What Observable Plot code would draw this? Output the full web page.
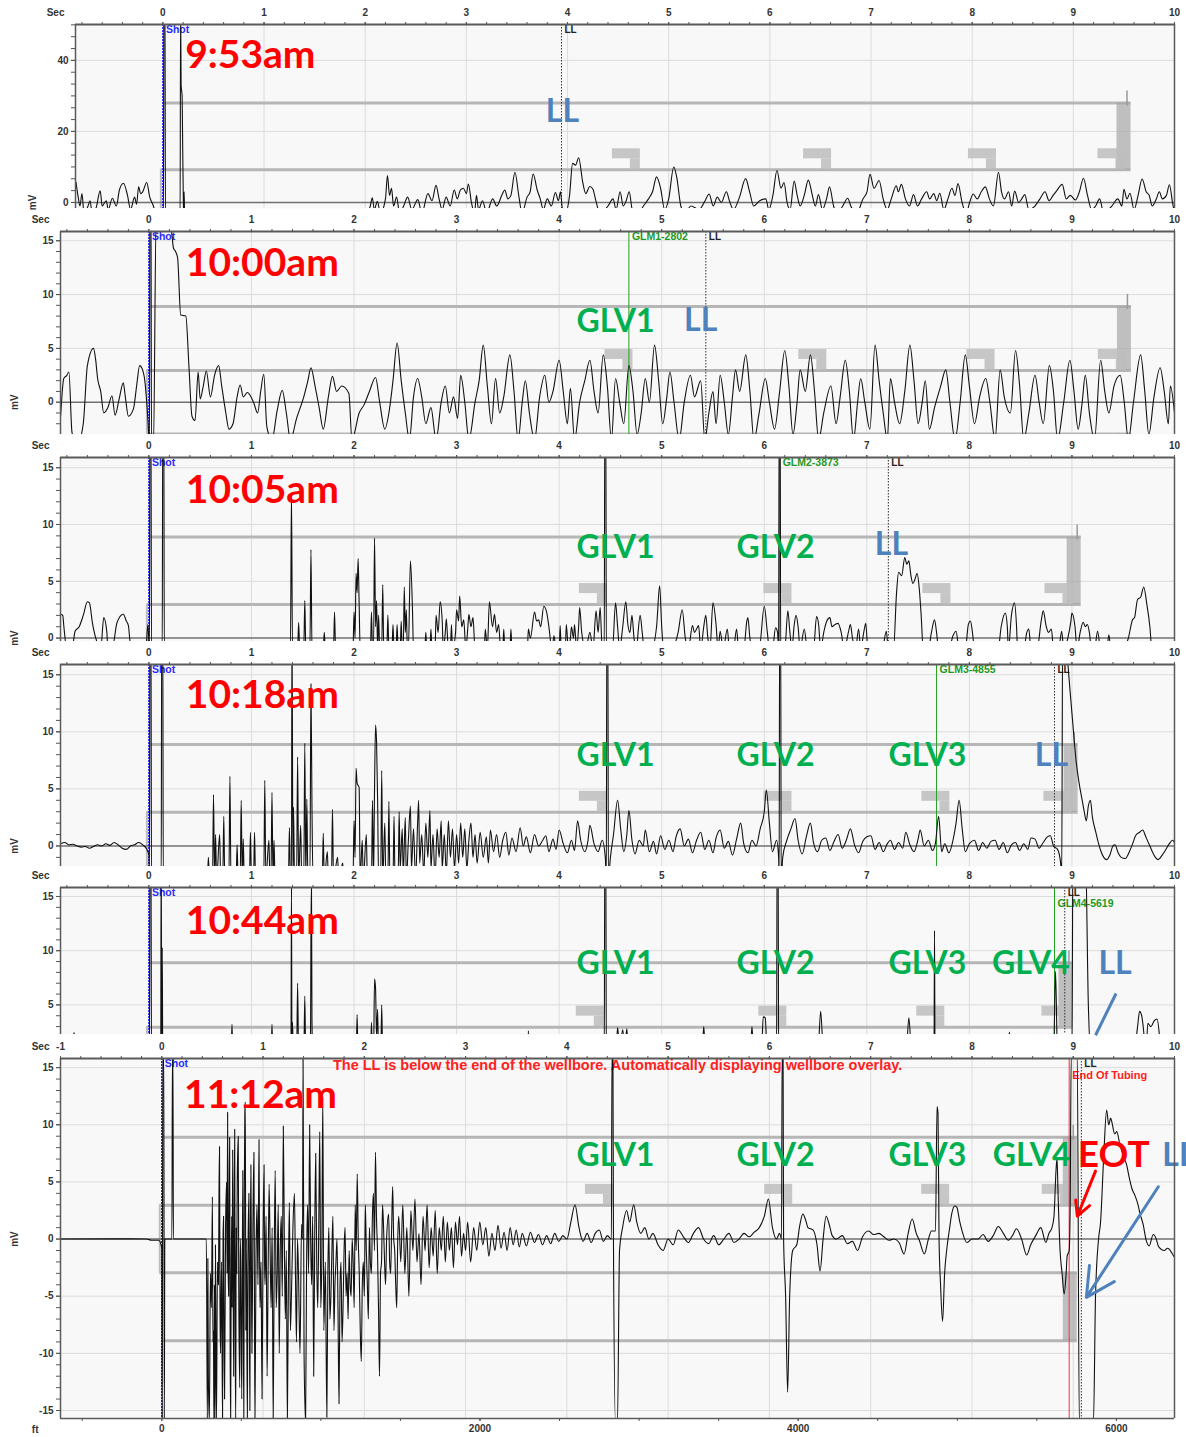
<!DOCTYPE html>
<html>
<head>
<meta charset="utf-8">
<title>Acoustic fluid level shots – 9:53am to 11:12am</title>
<script src="https://cdn.jsdelivr.net/npm/d3@7"></script>
<script src="https://cdn.jsdelivr.net/npm/@observablehq/plot@0.6"></script>
<style>
  html, body { margin: 0; padding: 0; background: #fff; }
  #stack { position: relative; width: 1186px; height: 1437px; overflow: hidden; background: #fff; }
  #stack > svg { position: absolute; left: 0; }
</style>
</head>
<body>
<div id="stack"></div>
<script>
// ---------------------------------------------------------------------------
// Acoustic traces, one per shot: [seconds after shot, millivolts]
// ---------------------------------------------------------------------------
const trace0953 = [
  [-0.86,5.8],[-0.84,2],[-0.82,-1],[-0.80,2.5],[-0.78,-3],[-0.74,-1],[-0.72,0.5],[-0.70,-3],[-0.66,-1.5],[-0.62,3.3],[-0.6,-1],[-0.56,0.5],[-0.54,-2],[-0.5,1.2],[-0.46,-1],[-0.43,3.5],[-0.39,5.4],[-0.35,2],[-0.32,-2],[-0.28,1.5],[-0.26,-0.5],[-0.24,4.4],[-0.22,2.5],[-0.2,3.0],[-0.16,5.6],[-0.13,1.5],[-0.1,-0.5],[-0.07,-3],[-0.03,-4],
  [0.005,-4],[0.01,60],[0.02,60],[0.025,-4],[0.1,-4],[0.17,-4],[0.175,55],[0.18,33],[0.19,30],[0.195,17],[0.2,5],[0.205,-4],[0.21,3],[0.215,-4],
  [1.5,-4],[2.0,-4],[2.05,-1],[2.07,1.3],[2.09,-2],[2.12,0.3],[2.15,-3],[2.2,1],[2.22,7.6],[2.24,2],[2.26,4],[2.28,-1],[2.31,1.5],[2.34,-3],
  [2.38,-1],[2.42,1.5],[2.46,-2],[2.52,0.8],[2.56,-3],[2.62,2.5],[2.66,0.5],[2.70,4.8],[2.73,1],[2.76,-2],[2.8,1.5],[2.84,-1],[2.88,3.5],[2.91,1],[2.94,3.5],[2.97,4],[3.0,2.5],[3.02,5.2],[3.05,0],[3.08,-3],[3.1,2],[3.12,-2],[3.16,0.5],[3.2,-3],[3.26,1],[3.3,-1],[3.35,2],[3.38,3.5],[3.41,1],[3.44,2],[3.48,8.5],[3.52,1.5],[3.55,-3],[3.6,1.5],[3.63,3],[3.66,8],[3.7,3.5],[3.73,1],[3.76,-2],[3.8,1],[3.84,-1],[3.88,2.8],[3.91,0.5],[3.93,3],[3.95,-2],[3.98,-3],
  [4.02,2],[4.05,11],[4.08,10.5],[4.11,12.6],[4.15,5.7],[4.18,2.5],[4.22,4.5],[4.25,3.8],[4.28,0.5],[4.32,-3],[4.4,-1],[4.45,1],[4.48,-2],[4.52,3],[4.55,-1],[4.58,0.5],[4.61,3],[4.64,-2],[4.7,-3],[4.75,-1],[4.8,1],[4.84,3],[4.88,7.2],[4.92,4],[4.96,-2],[5.0,1],[5.05,10],[5.08,7],[5.12,-1],[5.16,-3],[5.22,-1],[5.3,-2],[5.36,0.5],[5.4,2.4],[5.44,-1],[5.48,1.5],[5.52,0],[5.57,3],[5.6,0.5],[5.64,-2],[5.7,1.5],[5.76,6.7],[5.8,3],[5.84,-1],[5.9,0.5],[5.96,1],[5.99,-2],
  [6.03,2],[6.07,9],[6.11,4],[6.14,5.6],[6.17,0],[6.2,-2],[6.24,6],[6.27,2],[6.3,-1],[6.34,2],[6.38,6.3],[6.42,2],[6.45,-1],[6.48,2.2],[6.52,-2],[6.56,1],[6.59,4.4],[6.63,-1],[6.67,-3],[6.72,-1],[6.77,1.2],[6.8,-1],[6.86,-3],[6.92,1],[6.96,3],[6.99,7.9],[7.03,4],[7.08,6.2],[7.12,1],[7.16,-2],[7.2,1],[7.25,4.7],[7.27,3],[7.3,5.1],[7.34,1],[7.38,-1],[7.42,2.2],[7.46,-1],[7.5,1],[7.55,3],[7.58,1],[7.62,2.5],[7.65,0.5],[7.68,2.6],[7.72,-2],[7.76,1],[7.8,4],[7.83,2],[7.86,5.3],[7.9,0],[7.94,-3],[7.98,0.5],
  [8.01,2.4],[8.05,1],[8.09,3],[8.13,4.4],[8.17,1],[8.21,-1],[8.26,8.5],[8.29,3],[8.32,1],[8.36,3],[8.39,-1],[8.42,3.2],[8.46,0],[8.49,1],[8.52,2.2],[8.56,-2],[8.62,-1],[8.67,1],[8.72,3],[8.76,0.5],[8.8,2],[8.84,3.5],[8.89,5.1],[8.93,1],[8.97,2],[9.02,0.7],[9.06,3],[9.1,6.8],[9.14,2],[9.18,-2],[9.22,-1],[9.26,1],[9.3,-3],[9.38,-1],[9.44,1],[9.48,-1],[9.5,3.7],[9.53,1],[9.56,2.6],[9.6,-2],[9.64,2],[9.68,6.6],[9.72,3],[9.75,2],[9.78,-1],[9.82,1],[9.85,3],[9.88,1],[9.92,2],[9.95,5],[9.98,0],[10,-3]
];

const trace1000 = [
  [-0.86,-1.2],[-0.83,2.2],[-0.8,2.5],[-0.78,2.8],[-0.75,-2.8],[-0.7,-4],[-0.64,-2],[-0.6,3.4],[-0.54,5.0],[-0.52,4],[-0.5,2.2],[-0.47,1],[-0.44,-1],[-0.4,-0.5],[-0.36,0.6],[-0.33,-1.2],[-0.29,0.3],[-0.25,1.8],[-0.23,0.5],[-0.2,-1.3],[-0.15,-0.6],[-0.12,1.5],[-0.09,3.4],[-0.07,3.2],[-0.04,2],[-0.01,-1.6],
  [0.005,-4],[0.01,20],[0.02,20],[0.025,-4],[0.045,-4],[0.07,17],[0.1,17],[0.2,16.5],[0.22,15.9],[0.24,14.3],[0.26,14],[0.28,13.4],[0.31,8.1],[0.36,8],[0.39,3.4],[0.42,-1.3],[0.45,-1.7],[0.48,2.8],[0.5,0.3],[0.53,1.5],[0.56,2.9],[0.6,0.5],[0.64,2.5],[0.68,3.4],[0.71,1.5],[0.75,-1],[0.78,-2.5],[0.82,-2],[0.86,0.5],[0.89,1.6],[0.92,0.5],[0.96,0.9],
  [1.02,0],[1.06,-1],[1.09,1],[1.12,2.6],[1.15,-2.3],[1.2,-3.5],[1.25,-0.8],[1.3,1.1],[1.34,-1],[1.38,-3.5],[1.44,-1.5],[1.51,0.5],[1.55,2],[1.58,3.2],[1.62,1.5],[1.66,-0.5],[1.7,-2.5],[1.75,0.5],[1.79,2.4],[1.83,1],[1.88,1.5],[1.95,0.8],[1.98,-3.5],
  [2.05,-1],[2.1,-0.2],[2.15,1],[2.21,2.3],[2.25,0],[2.3,-2.5],[2.34,-1],[2.38,2],[2.42,5.5],[2.46,2],[2.5,-1],[2.54,-3.5],[2.58,0.5],[2.62,2.2],[2.66,0.5],[2.7,-2],[2.75,-0.5],[2.8,-3.5],[2.85,0],[2.89,1.5],[2.93,-1],[2.97,0.5],
  [3.01,-1.5],[3.04,2.5],[3.08,0],[3.12,-3.5],[3.18,0],[3.22,2],[3.26,5.3],[3.3,1.5],[3.34,-2],[3.38,2.2],[3.42,-1],[3.46,0.5],[3.52,4.4],[3.56,1],[3.6,-3.5],[3.64,0],[3.67,2.0],[3.71,-1],[3.76,-3.5],[3.81,0.5],[3.86,2.5],[3.9,0],[3.94,1],
  [4.0,3.9],[4.04,1],[4.08,-2],[4.11,1.3],[4.15,-3.5],[4.2,0],[4.25,2],[4.3,3.9],[4.34,1],[4.38,-1],[4.43,4.4],[4.47,1.5],[4.51,-3.5],[4.55,2.2],[4.59,0],[4.63,-2],[4.68,3.4],[4.72,1],[4.76,-3],[4.8,-1],[4.84,2.2],[4.88,0],[4.93,5.3],[4.97,2],
  [5.01,-2],[5.05,0.5],[5.08,2.8],[5.12,0],[5.17,-3.5],[5.22,0],[5.28,2.5],[5.32,0.5],[5.38,2],[5.42,-3.5],[5.46,-1],[5.5,1],[5.53,-2],[5.57,2.5],[5.61,0],[5.65,-3],[5.69,0.5],[5.72,3],[5.76,1],[5.82,4.4],[5.86,1],[5.9,-3.5],[5.95,-1],
  [6.01,2.2],[6.05,0],[6.1,-2.5],[6.15,1],[6.2,4.8],[6.24,1.5],[6.28,-3],[6.32,0],[6.35,3],[6.4,1],[6.45,4.4],[6.49,1],[6.53,-3.5],[6.58,-1],[6.65,1.5],[6.7,-2],[6.74,0.5],[6.79,3.9],[6.83,1],[6.87,-3.5],[6.91,0],[6.94,2.2],[6.98,0],
  [7.03,-2.5],[7.08,5.3],[7.12,2],[7.16,-1],[7.2,-3.5],[7.23,2.2],[7.27,0],[7.32,-2],[7.37,1],[7.42,5.3],[7.46,2],[7.5,-2],[7.54,0],[7.57,2],[7.61,-2.5],[7.66,-0.5],[7.72,1.5],[7.77,3],[7.81,0],[7.86,-3.5],[7.91,0],[7.96,4.4],
  [8.0,1.5],[8.05,-2],[8.1,0.5],[8.16,2.2],[8.2,0],[8.25,-3.5],[8.3,3],[8.34,0.5],[8.4,-1],[8.45,4.8],[8.49,1.5],[8.53,-3.5],[8.58,-1],[8.64,2.5],[8.68,0],[8.72,-2],[8.78,3.4],[8.82,1],[8.86,-3.5],[8.92,0],[8.98,3.9],
  [9.02,1],[9.06,-2.5],[9.1,0],[9.13,2.5],[9.17,-1],[9.22,-3.5],[9.28,3.9],[9.32,1],[9.36,-1],[9.41,1.5],[9.47,2.5],[9.51,0],[9.55,-3.5],[9.6,0],[9.67,4.4],[9.71,1],[9.75,-3],[9.8,0.5],[9.86,3.2],[9.9,1],[9.94,-2],[9.96,1.5],[10,-1]
];

const trace1005 = [
  [-0.86,2.1],[-0.84,2.0],[-0.83,1.1],[-0.8,-1],[-0.75,-1],[-0.72,0.6],[-0.68,1.0],[-0.64,2],[-0.6,3.2],[-0.58,3.1],[-0.55,1.3],[-0.5,-0.5],[-0.47,-1],[-0.44,1.8],[-0.41,0.5],[-0.4,-1],[-0.36,-1],[-0.31,1.4],[-0.25,2.1],[-0.22,1.5],[-0.2,1.1],[-0.18,-0.5],[-0.1,-1],[-0.03,-1],[-0.01,1.2],
  [0.005,-1],[0.01,20],[0.02,20],[0.025,-1],[0.13,-1],[0.135,20],[0.145,20],[0.15,-1],
  [1.38,-1],[1.39,12.8],[1.4,-1],[1.45,-1],[1.46,1.4],[1.47,-1],[1.51,-1],[1.52,3.3],[1.53,-1],[1.57,-1],[1.58,7.8],[1.59,-1],[1.7,-1],[1.71,0.5],[1.72,-1],[1.8,-1],[1.81,2.3],[1.82,-1],[1.99,-1],
  [2.0,2.3],[2.01,0],[2.02,5.7],[2.03,4],[2.04,7.0],[2.05,3],[2.06,-1],[2.16,-1],[2.17,2.3],[2.18,-1],[2.19,-1],[2.2,8.8],[2.21,1],[2.22,3.3],[2.23,-1],[2.24,2],[2.25,-1],[2.27,-1],[2.28,4.7],[2.29,-1],[2.32,-1],[2.33,2],[2.34,-1],[2.37,-1],[2.38,1.2],[2.39,-1],[2.41,-1],[2.42,1.2],[2.43,-1],[2.45,-1],[2.46,1.5],[2.47,-1],[2.48,-1],[2.49,4.5],[2.5,0.5],[2.51,2.5],[2.52,-1],[2.53,-1],[2.55,6.8],[2.57,2.5],[2.58,-1],
  [2.69,-1],[2.7,0.5],[2.71,-1],[2.74,-1],[2.75,0.8],[2.76,-1],[2.79,-1],[2.8,2],[2.82,0.5],[2.84,3.2],[2.86,1.5],[2.87,-1],[2.89,0.5],[2.9,1.7],[2.92,-1],[2.94,-1],[2.95,1.2],[2.96,-1],[2.99,0.5],
  [3.0,2.5],[3.02,1.5],[3.03,3.7],[3.05,1],[3.07,1.6],[3.09,-1],[3.11,1],[3.12,2.1],[3.14,1],[3.16,1.8],[3.18,-1],[3.27,-1],[3.28,0.8],[3.3,-1],[3.32,3.2],[3.35,1],[3.37,2.1],[3.39,0.5],[3.41,1.2],[3.43,-1],[3.45,-1],[3.46,0.8],[3.47,-1],[3.52,-1],[3.53,0.8],[3.54,-1],[3.69,-1],[3.7,0.8],[3.72,0],[3.76,2.3],[3.78,1.5],[3.8,1.6],[3.82,1],[3.85,2.8],[3.88,2.2],[3.9,1],[3.93,-1],[3.95,0.2],[3.97,-1],
  [4.0,-1],[4.01,1.1],[4.02,-1],[4.06,-1],[4.07,1.2],[4.09,-1],[4.11,0],[4.12,1],[4.14,0],[4.15,1.2],[4.17,-1],[4.19,1],[4.2,2.7],[4.22,0.5],[4.26,-1],[4.3,0.5],[4.33,-1],[4.36,2.4],[4.38,0.5],[4.4,2.7],[4.42,-1],[4.44,-1],[4.445,20],[4.455,20],[4.46,-1],
  [4.52,-1],[4.55,3.1],[4.57,1],[4.59,-1],[4.62,1],[4.65,3.2],[4.67,1.2],[4.69,0.5],[4.71,2.0],[4.73,0],[4.75,-1],[4.79,2.0],[4.81,0.5],[4.83,-1],[4.9,-1],[4.95,1],[4.98,4.6],[5.0,1],[5.02,-1],[5.1,-1],[5.16,0.5],[5.2,2.5],[5.23,0],[5.26,-1],[5.3,1.1],[5.32,0.5],[5.34,0.8],[5.36,1.1],[5.38,-1],[5.41,1],[5.43,2],[5.45,0],[5.47,-1],[5.5,3.1],[5.53,1.2],[5.55,-1],[5.57,0.6],[5.6,-1],[5.64,0.8],[5.66,-1],[5.7,-1],[5.73,0.8],[5.75,-1],[5.8,-1],[5.83,1.5],[5.84,1.8],[5.86,0],[5.88,-1],[5.95,-1],
  [6.0,2.8],[6.03,0.5],[6.05,-1],[6.08,-1],[6.11,0.9],[6.13,0.5],[6.14,-1],[6.145,20],[6.155,20],[6.16,-1],[6.2,-1],[6.23,2.4],[6.25,0.5],[6.27,-1],[6.29,1],[6.31,2],[6.33,1],[6.35,-1],[6.39,0.8],[6.42,-1],[6.48,-1],[6.51,1.9],[6.53,1.2],[6.55,-1],[6.58,0.5],[6.61,1.5],[6.64,1.8],[6.66,1],[6.69,1.2],[6.72,1.3],[6.75,0.5],[6.78,-1],[6.82,0.5],[6.84,1.2],[6.86,0],[6.89,-1],[6.92,0.8],[6.94,-1],[6.97,0.5],[6.99,1.3],
  [7.01,-1],[7.15,-1],[7.19,0.6],[7.21,-1],[7.26,-1],[7.29,4],[7.31,5.8],[7.34,5.5],[7.37,7.1],[7.39,6.5],[7.41,6.8],[7.43,5.5],[7.45,4.8],[7.47,5.2],[7.49,5.7],[7.51,4.5],[7.53,2],[7.55,-1],[7.6,-1],[7.63,0.5],[7.66,1.6],[7.68,0.5],[7.7,-1],[7.8,-1],[7.84,0.2],[7.87,0.6],[7.9,-1],[7.96,-1],[7.99,1.2],
  [8.01,1.5],[8.03,0.5],[8.05,-1],[8.2,-1],[8.28,-1],[8.31,1],[8.35,2.2],[8.37,1],[8.38,-1],[8.41,2],[8.44,3.1],[8.46,1],[8.47,-1],[8.53,-1],[8.56,0.5],[8.58,0.8],[8.6,-1],[8.66,-1],[8.7,1.5],[8.72,2.4],[8.75,1],[8.77,0.5],[8.8,0.8],[8.82,-1],[8.87,-1],[8.9,0.6],[8.92,-1],[8.96,0],[8.99,1.5],
  [9.0,2.2],[9.03,1],[9.05,-1],[9.08,0.5],[9.11,1.4],[9.13,1],[9.15,1.2],[9.17,0.5],[9.19,-1],[9.22,-1],[9.25,0.6],[9.28,-1],[9.34,-1],[9.36,0.3],[9.38,-1],[9.5,-1],[9.55,0],[9.59,1.6],[9.61,1.8],[9.64,3.4],[9.67,3.6],[9.7,4.5],[9.73,3],[9.76,1],[9.78,-1],[10,-1]
];

const trace1018 = [
  [-0.86,0.2],[-0.82,0.3],[-0.78,0.1],[-0.74,0.15],[-0.7,0],[-0.66,-0.1],[-0.62,-0.05],[-0.58,-0.2],[-0.54,-0.05],[-0.5,0.1],[-0.46,0],[-0.42,0.2],[-0.38,0.05],[-0.34,0.3],[-0.3,0.1],[-0.26,-0.2],[-0.22,-0.3],[-0.18,0],[-0.14,0.1],[-0.1,0.3],[-0.06,0.1],[-0.02,-0.3],[0.0,-0.8],
  [0.005,-3],[0.01,20],[0.02,20],[0.025,-3],[0.12,-3],[0.125,20],[0.135,20],[0.14,-3],
  [0.57,-3],[0.58,-1],[0.59,-3],[0.62,-3],[0.63,4.5],[0.64,-3],[0.65,1],[0.66,-3],[0.69,1],[0.7,-3],[0.72,-3],[0.73,2.6],[0.74,-3],[0.78,-3],[0.79,6.1],[0.8,-3],[0.85,-3],[0.86,0.1],[0.87,-3],[0.89,-3],[0.9,4],[0.91,-3],[0.92,0.6],[0.93,-3],[0.98,-3],[0.99,1.2],
  [1.0,-3],[1.02,-3],[1.03,1.2],[1.04,-3],[1.12,-3],[1.13,5.75],[1.14,-3],[1.17,0.5],[1.18,-3],[1.19,-3],[1.2,4.7],[1.21,-3],[1.22,0.5],[1.23,-3],[1.36,-3],[1.37,1.6],[1.38,-3],[1.39,-3],[1.395,20],[1.405,-3],[1.41,3.4],[1.42,-3],[1.44,-3],[1.45,7.8],[1.46,-3],[1.48,1.8],[1.49,-3],[1.51,-3],[1.52,9.0],[1.53,-3],[1.54,4.1],[1.55,-3],[1.57,-3],[1.58,14.2],[1.59,3.4],[1.6,-3],[1.69,-3],[1.7,1.1],[1.71,-3],[1.74,-0.5],[1.75,-3],[1.78,-3],[1.79,3.2],[1.8,-3],[1.84,-1],[1.85,-3],[1.89,-1.5],[1.9,-3],[1.99,-3],
  [2.0,2.2],[2.01,-1],[2.02,6.8],[2.03,5.5],[2.05,5.1],[2.06,-3],[2.08,0.5],[2.09,-3],[2.12,1],[2.13,-3],[2.17,-3],[2.18,4],[2.19,-3],[2.2,5],[2.21,10.6],[2.22,9],[2.23,4],[2.24,-3],[2.26,-3],[2.27,6.6],[2.28,-3],[2.3,2],[2.31,-3],[2.33,-3],[2.34,3.9],[2.35,-3],[2.38,-3],[2.39,2.6],[2.4,-3],[2.43,-3],[2.44,3],[2.45,-2],
  [2.47,1.5],[2.48,-2.5],[2.5,2.5],[2.51,-3],[2.53,0.5],[2.55,3.5],[2.56,-2],[2.58,1.5],[2.6,-3],[2.62,2],[2.63,4],[2.64,-1.5],[2.66,1],[2.68,-2.5],[2.7,2],[2.72,-1],[2.74,3.1],[2.75,-2],[2.77,1],[2.79,-3],[2.81,1.5],[2.83,-1],[2.85,2.2],[2.86,-2],[2.88,1],[2.9,-2.5],[2.92,2.2],[2.94,-1],[2.96,1.5],[2.98,-2],
  [3.0,1],[3.02,-1.5],[3.04,2],[3.06,-1],[3.08,1.5],[3.1,-2],[3.12,0.5],[3.14,2],[3.16,-1],[3.18,1],[3.2,-1.5],[3.23,1.2],[3.26,-1],[3.29,0.8],[3.31,-1.5],[3.33,1.4],[3.36,-0.5],[3.39,1],[3.42,-1],[3.45,0.5],[3.48,1.2],[3.51,-0.8],[3.54,0.7],[3.58,-0.5],[3.62,1.6],[3.65,0],[3.68,0.8],[3.72,-0.6],[3.76,1],[3.8,0],[3.84,0.5],[3.87,0.9],[3.9,-0.5],[3.94,0.6],[3.97,-0.3],
  [4.0,1.4],[4.04,0.2],[4.08,-0.6],[4.12,0.5],[4.15,-0.4],[4.18,2.2],[4.21,0.5],[4.25,-0.5],[4.28,0.4],[4.3,1.8],[4.34,0.2],[4.38,-0.5],[4.42,0.5],[4.45,-1],[4.46,-3],[4.465,20],[4.475,20],[4.48,-3],[4.5,-1],[4.53,1],[4.57,4.0],[4.6,1.5],[4.63,-0.5],[4.66,1],[4.68,3.1],[4.71,0.5],[4.74,-0.7],[4.78,0.5],[4.82,0],[4.84,1.4],[4.88,-0.5],[4.92,0.4],[4.95,-0.7],[4.99,0.9],
  [5.03,-0.3],[5.07,0.5],[5.11,-0.5],[5.14,0.8],[5.18,1.5],[5.22,0],[5.26,0.6],[5.3,-0.6],[5.34,0.5],[5.38,1.2],[5.42,-0.3],[5.46,0.5],[5.5,-0.6],[5.53,0.7],[5.57,1.4],[5.61,-0.2],[5.65,0.4],[5.69,-0.8],[5.73,0.6],[5.77,2.0],[5.8,0.2],[5.84,-0.6],[5.88,0.5],[5.92,0],[5.96,1.5],
  [6.0,3],[6.02,4.9],[6.05,2],[6.08,-0.5],[6.12,0.5],[6.14,-1],[6.145,-3],[6.15,20],[6.16,20],[6.165,-3],[6.18,-1],[6.22,0.5],[6.26,1.5],[6.3,2.4],[6.33,0.5],[6.37,-0.7],[6.41,0.8],[6.45,2.0],[6.48,0.3],[6.52,-0.5],[6.56,0.5],[6.6,0.7],[6.64,-0.4],[6.68,0.4],[6.72,1.0],[6.76,-0.2],[6.8,0.5],[6.84,1.5],[6.88,0.1],[6.92,-0.6],[6.96,0.4],
  [7.0,0.8],[7.04,0.9],[7.08,-0.3],[7.12,0.3],[7.16,-0.5],[7.2,0.2],[7.23,0.5],[7.27,-0.3],[7.31,0.3],[7.35,-0.2],[7.38,1.2],[7.42,0.1],[7.46,-0.5],[7.5,0.6],[7.52,1.4],[7.56,0],[7.6,0.5],[7.64,-0.4],[7.67,0.3],[7.7,2.6],[7.73,-0.5],[7.76,0.2],[7.8,-0.6],[7.84,0.5],[7.87,2],[7.9,4],[7.93,1.5],[7.96,-0.5],
  [8.0,0.2],[8.05,0.5],[8.09,-0.4],[8.13,0.3],[8.17,-0.2],[8.21,0.4],[8.25,0.5],[8.29,-0.3],[8.33,0.3],[8.37,-0.6],[8.41,0.1],[8.45,0.3],[8.49,-0.4],[8.53,0.2],[8.57,-0.3],[8.6,0.7],[8.64,0.6],[8.68,-0.2],[8.72,0.3],[8.76,0.8],[8.79,0.9],[8.82,0],[8.86,-0.3],[8.89,-1.5],[8.9,-3],
  [8.91,20],[8.93,20],[8.96,16],[8.99,12.7],[9.02,9.5],[9.04,7.5],[9.07,5.5],[9.1,4],[9.12,3],[9.14,2.2],[9.16,3.5],[9.18,4],[9.2,2.5],[9.23,1.3],[9.26,0.2],[9.28,-0.4],[9.31,-1],[9.34,-1.2],[9.37,-0.8],[9.4,0],[9.42,0.1],[9.45,-0.6],[9.48,-1],[9.52,-1.1],[9.56,-0.5],[9.6,0.4],[9.62,0.9],[9.66,1.2],[9.69,1.4],[9.72,0.8],[9.76,0],[9.8,-0.8],[9.84,-1.2],[9.88,-0.8],[9.91,-0.4],[9.95,0.2],[9.98,0.5],[10,0.3]
];

const trace1044 = [
  [-0.86,0],[-0.76,0],[-0.73,2.45],[-0.7,0],[-0.1,0],
  [0.005,0],[0.01,20],[0.02,20],[0.025,0],[0.115,0],[0.12,20],[0.125,0],[0.13,10.3],[0.135,0],
  [0.8,0],[0.81,3.2],[0.82,0],[1.19,0],[1.2,3.2],[1.21,0],[1.385,0],[1.39,16],[1.395,0],[1.4,3.4],[1.41,0],[1.44,0],[1.45,7.0],[1.46,0],[1.51,0],[1.52,5.8],[1.53,0],[1.575,0],[1.58,11.7],[1.585,16],[1.59,3.5],[1.6,0],
  [2.02,0],[2.03,4.1],[2.04,0],[2.16,0],[2.17,3.4],[2.18,0],[2.19,0],[2.2,7.4],[2.21,6.5],[2.22,2],[2.23,4.6],[2.24,0],[2.26,0],[2.27,5.0],[2.28,0],[3.69,0],[3.7,2.6],[3.71,0],
  [4.44,0],[4.445,20],[4.455,20],[4.46,0],[4.55,0],[4.57,2.9],[4.59,1],[4.62,2.7],[4.64,1],[4.66,2.8],[4.68,0],[5.39,0],[5.41,3.0],[5.43,0],[5.86,0],[5.88,3],[5.9,0],[5.97,0],[5.99,3.9],[6.01,3.8],[6.03,0],
  [6.12,0],[6.125,20],[6.135,20],[6.14,0],[6.52,0],[6.55,4.4],[6.58,0],[7.38,0],[7.41,3.8],[7.44,0],[7.655,0],[7.66,11.85],[7.665,0],[8.37,0],[8.39,2.5],[8.41,0],[8.82,0],[8.84,8.1],[8.86,0],
  [9.0,0],[9.01,20],[9.13,20],[9.16,5],[9.19,0],[9.6,0],[9.64,3],[9.66,4.4],[9.68,4],[9.7,2.5],[9.72,0],[9.74,3.3],[9.77,3],[9.8,3.5],[9.83,3.7],[9.85,2.5],[9.87,0],[10,0]
];

const trace1112 = [
  [-1,0],[-0.5,0.02],[-0.15,0],[-0.1,-0.1],[-0.03,-0.1],[0.0,-0.8],
  [0.005,-16],[0.01,16],[0.02,16],[0.025,-16],[0.03,0],[0.1,0],[0.105,16],[0.11,16],[0.115,0],[0.2,0],[0.44,0],
  [0.45,-16],[0.455,-1.7],[0.46,-12],[0.47,-16],[0.48,-3],[0.49,-6],[0.5,3.7],[0.505,-9],[0.51,-8],[0.515,-16],[0.52,-4],[0.525,-16],[0.53,-0.5],[0.535,-10],[0.54,-16],[0.55,-2],[0.56,-4],[0.565,4],[0.57,8.1],[0.575,-6],[0.58,-10],[0.59,-2],[0.6,-16],[0.605,0],[0.61,2],[0.615,-9],[0.62,-14],[0.63,1],[0.64,5],[0.645,-3],[0.65,11.1],[0.655,-2],[0.66,-5],[0.665,3],[0.67,8.9],[0.675,-9],[0.68,-16],[0.685,-4],[0.69,2],[0.695,-6],[0.7,7.8],[0.705,-3],[0.71,-12],[0.715,2],[0.72,9.6],[0.725,-8],[0.73,-16],[0.735,1],[0.74,-3],[0.745,5],[0.755,9],[0.76,-4],[0.77,-13],[0.775,0],[0.78,-2],[0.79,-14],[0.8,6],[0.805,-5],[0.81,-16],[0.815,4],[0.82,11],[0.825,12],[0.83,-8],[0.835,0],[0.845,-16],[0.85,-3],[0.86,4],[0.865,-6],[0.87,-15],[0.875,0],[0.88,6.5],[0.885,-2],[0.89,-10],[0.9,1],[0.91,7.6],[0.915,-5],[0.92,-16],[0.93,-2],[0.94,3],[0.95,-4],[0.96,8.7],[0.965,0],[0.97,-6],[0.98,-2],[0.99,-14],
  [1.0,0],[1.01,6.5],[1.015,-2],[1.02,-4],[1.03,2],[1.04,-12],[1.05,-3],[1.06,4.8],[1.07,-1],[1.08,-6],[1.09,1],[1.1,-16],[1.11,-2],[1.12,6],[1.13,-6],[1.14,-3],[1.15,3],[1.16,-10],[1.17,-1],[1.18,2],[1.19,-5],[1.2,9.9],[1.21,0],[1.22,-7],[1.23,-1],[1.24,-16],[1.25,-4],[1.26,3.2],[1.27,-8],[1.28,-5],[1.295,1],[1.31,4],[1.32,-3],[1.33,-9],[1.34,0],[1.35,-3],[1.365,-10],[1.38,1.3],[1.39,0],[1.395,16],[1.405,-10],[1.42,-16],[1.43,-2],[1.44,3],[1.45,-3],[1.46,10],[1.47,0],[1.48,-4],[1.49,2],[1.5,-12],[1.51,0],[1.52,7.5],[1.53,-2],[1.54,-6],[1.55,1],[1.56,9.4],[1.57,-6],[1.58,-2],[1.59,12.4],[1.6,-8],[1.615,-2],[1.63,-15.6],
  [1.64,-3],[1.65,1],[1.66,-7],[1.67,-5],[1.68,-1],[1.69,2],[1.7,-8],[1.71,-4],[1.72,-2],[1.73,0],[1.74,-6],[1.75,-14.4],[1.76,-4],[1.77,-2],[1.78,-9],[1.79,-6],[1.8,-1],[1.81,1],[1.82,-5],[1.83,-3],[1.84,-7],[1.85,-1],[1.86,-4],[1.87,-5],[1.88,0],[1.89,-2],[1.9,-6],[1.91,3],[1.92,-1],[1.93,5.7],[1.94,0],[1.95,-3],[1.96,-8],[1.97,-10.7],[1.98,-4],[1.99,-2],
  [2.0,-5],[2.01,3],[2.02,-1],[2.03,-4],[2.04,-7],[2.05,1],[2.06,-2],[2.07,-3],[2.08,2],[2.09,4],[2.1,-1],[2.11,7.6],[2.12,2],[2.13,-1],[2.14,-6],[2.15,-12],[2.16,-3],[2.17,-2],[2.18,3],[2.19,1],[2.2,-2],[2.21,-4],[2.22,0],[2.24,2.2],[2.25,-2],[2.26,-3],[2.27,1],[2.28,4.6],[2.29,0],[2.3,-1],[2.31,-4],[2.32,-6],[2.33,0],[2.34,2],[2.36,-2],[2.38,3],[2.4,-3],[2.42,1],[2.44,-5],[2.46,2.5],[2.48,-1],[2.5,3.5],[2.52,-2],[2.54,0.5],[2.56,-4],[2.58,2],[2.6,-1],[2.62,3],[2.64,-2.5],[2.66,1],[2.68,-1.5],[2.7,2.5],[2.72,-3],[2.74,1],[2.76,-1],[2.78,2],[2.8,-2],[2.82,1.5],[2.84,-1],[2.86,1],[2.88,-2.5],[2.9,1.5],[2.92,-0.5],[2.94,2],[2.96,-1.5],[2.98,0.5],
  [3.0,-1],[3.02,1.5],[3.05,-2],[3.08,1],[3.11,-1],[3.14,1.5],[3.17,-0.5],[3.2,1],[3.23,-1.5],[3.26,0.5],[3.29,-1],[3.32,1.2],[3.35,-0.8],[3.38,0.6],[3.41,-1],[3.44,1],[3.47,-0.5],[3.5,0.8],[3.53,-0.7],[3.56,0.5],[3.6,-0.6],[3.64,0.6],[3.68,-0.3],[3.72,0.4],[3.76,-0.5],[3.8,0.3],[3.84,-0.4],[3.88,0.5],[3.92,-0.2],[3.96,0.3],
  [4.0,0],[4.04,1.5],[4.08,3],[4.12,1],[4.16,-0.2],[4.2,0.5],[4.24,-0.3],[4.28,0.5],[4.32,0.8],[4.36,-0.2],[4.4,0.3],[4.44,0],[4.445,16],[4.455,16],[4.46,0],[4.48,-16],[4.5,-16],[4.52,-1],[4.55,1],[4.59,2.5],[4.62,1.5],[4.66,3],[4.69,1.5],[4.73,0.5],[4.77,1],[4.81,0],[4.85,0.5],[4.9,-0.5],[4.95,-1],
  [5.0,0],[5.05,-0.5],[5.1,0.8],[5.15,0.2],[5.2,-0.3],[5.25,0.5],[5.3,1],[5.35,0],[5.4,-0.4],[5.45,0.3],[5.5,-0.5],[5.55,0],[5.6,0.5],[5.65,-0.3],[5.7,0],[5.75,0.5],[5.8,0.2],[5.85,0.6],[5.9,1],[5.95,2],[5.99,3.5],
  [6.03,1],[6.07,0],[6.1,0.5],[6.12,0],[6.125,16],[6.135,16],[6.14,0],[6.16,-5],[6.18,-13.4],[6.2,-5],[6.23,-1],[6.27,-0.5],[6.3,1.2],[6.33,2.2],[6.36,1.6],[6.38,1.0],[6.43,0.8],[6.47,-0.5],[6.5,-2.8],[6.53,0],[6.56,2.0],[6.59,1.3],[6.62,0.3],[6.66,0],[6.72,0.3],[6.77,-0.4],[6.82,-0.2],[6.87,-1],[6.92,0.2],[6.98,0.7],
  [7.03,0.4],[7.08,0.5],[7.13,0.2],[7.18,-0.1],[7.23,0],[7.28,-0.3],[7.33,-1.3],[7.37,0.5],[7.41,1.75],[7.45,0.5],[7.48,-0.1],[7.53,-1.3],[7.57,0],[7.6,0.7],[7.64,0.7],[7.655,11.6],[7.665,11],[7.675,0],[7.69,-4],[7.71,-7.2],[7.73,-3],[7.75,-1],[7.78,1],[7.8,2.2],[7.83,2.9],[7.85,2.8],[7.88,1.5],[7.9,0.8],[7.95,-0.3],
  [8.0,0],[8.06,0],[8.11,0.4],[8.16,-0.2],[8.21,0.3],[8.26,1.1],[8.31,0.5],[8.36,-0.1],[8.4,0.3],[8.44,0.9],[8.49,0],[8.54,-1.4],[8.58,-0.5],[8.63,0.3],[8.68,1.0],[8.73,-0.3],[8.76,0.5],[8.79,1.0],[8.81,2],[8.83,6],[8.84,7.1],[8.85,4],[8.87,-1],[8.89,-3],[8.91,-4.8],[8.93,-3],[8.94,-1.5],[8.96,-1],[8.97,3],
  [8.98,16],[9.04,16],[9.06,-16],[9.2,-16],[9.22,-5],[9.25,0],[9.27,1.5],[9.3,7],[9.33,11.3],[9.35,10],[9.37,10.6],[9.38,10.3],[9.41,9.2],[9.43,9.4],[9.46,8.3],[9.5,7.2],[9.53,6.4],[9.55,5.5],[9.58,4.4],[9.61,3.8],[9.64,3.0],[9.66,2.2],[9.69,1.3],[9.72,-0.1],[9.75,-0.6],[9.79,0.4],[9.82,0],[9.84,-0.6],[9.87,-0.9],[9.9,-1],[9.93,-0.8],[9.95,-0.9],[9.98,-1.3],[10,-1.6]
];

// Gas-lift mandrel markers of the wellbore overlay (seconds, marker right edge)
const mandrels0953 = [4.72, 6.61, 8.24, 9.52];
const mandrels1000 = [4.72, 6.61, 8.25, 9.53];
const mandrels1005 = [4.47, 6.27, 7.82, 9.01];
const mandrels1018 = [4.47, 6.27, 7.81, 9.0];
const mandrels1044 = [4.44, 6.22, 7.76, 8.98];
const mandrels1112 = [4.46, 6.23, 7.78, 8.97];

// Wellbore overlay: [outer wall mV, inner wall mV, end of overlay in seconds]
const wellbore0953 = [28, 9.2, 9.57];
const wellbore1000 = [8.9, 2.95, 9.58];
const wellbore1005 = [8.9, 2.95, 9.09];
const wellbore1018 = [8.9, 2.95, 9.06];
const wellbore1044 = [8.9, 2.95, 9.01];
const wellbore1112 = [8.9, 2.95, 9.04];

// Picked events: kind, seconds, label
const events0953 = [["shot", 0, "Shot"], ["ll", 3.94, "LL"]];
const events1000 = [["shot", 0, "Shot"], ["glm", 4.68, "GLM1-2802"], ["ll", 5.43, "LL"]];
const events1005 = [["shot", 0, "Shot"], ["glm", 6.15, "GLM2-3873"], ["ll", 7.21, "LL"]];
const events1018 = [["shot", 0, "Shot"], ["glm", 7.68, "GLM3-4855"], ["ll", 8.83, "LL"]];
const events1044 = [["shot", 0, "Shot"], ["glm", 8.83, "GLM4-5619"], ["ll", 8.93, "LL"]];
const events1112 = [["shot", 0, "Shot"], ["eot", 8.96, "End Of Tubing"], ["ll", 9.08, "LL"]];

// Call-outs: text, seconds, mV, kind
const notes0953 = [["9:53am", 0.22, 41.4, "time"], ["LL", 3.95, 25.6, "ll"]];
const notes1000 = [["10:00am", 0.36, 12.9, "time"], ["GLV1", 4.55, 7.5, "glv"], ["LL", 5.38, 7.6, "ll"]];
const notes1005 = [["10:05am", 0.36, 13.0, "time"], ["GLV1", 4.55, 7.95, "glv"], ["GLV2", 6.11, 7.95, "glv"], ["LL", 7.24, 8.2, "ll"]];
const notes1018 = [["10:18am", 0.36, 13.2, "time"], ["GLV1", 4.55, 7.9, "glv"], ["GLV2", 6.11, 7.9, "glv"], ["GLV3", 7.59, 7.9, "glv"], ["LL", 8.8, 7.9, "ll"]];
const notes1044 = [["10:44am", 0.36, 12.7, "time"], ["GLV1", 4.55, 8.8, "glv"], ["GLV2", 6.11, 8.8, "glv"], ["GLV3", 7.59, 8.8, "glv"], ["GLV4", 8.6, 8.8, "glv"], ["LL", 9.42, 8.8, "ll"]];
const notes1112 = [["11:12am", 0.22, 12.55, "time"], ["GLV1", 4.48, 7.3, "glv"], ["GLV2", 6.06, 7.3, "glv"], ["GLV3", 7.56, 7.3, "glv"], ["GLV4", 8.59, 7.3, "glv"], ["EOT", 9.4, 7.3, "eot"], ["LL", 9.88, 7.3, "llStart"]];

// Pointer arrows: x1, y1, x2, y2 (seconds, mV), kind
const arrows1044 = [[9.43, 6.05, 9.23, 2.2, "llLine"]];
const arrows1112 = [[9.22, 5.95, 9.04, 2.0, "eot"], [9.84, 4.58, 9.13, -5.1, "ll"]];

// Depth axis of the last shot
const ftMajor = [0, 2000, 4000, 6000];
const ftMinor = [-500, 0, 500, 1000, 1500, 2000, 2500, 3000, 3500, 4000, 4500, 5000, 5500, 6000];
const FT_PER_SEC = 636.5;

const wellboreMessage = "The LL is below the end of the wellbore. Automatically displaying wellbore overlay.";

// ---------------------------------------------------------------------------
// Panel layout
// ---------------------------------------------------------------------------
const W = 1186, MR = 12;
const AXIS_FONT = "'Liberation Sans', Arial, sans-serif";
const CALLOUT_FONT = "Lato, 'Open Sans', sans-serif";
const COLORS = {time: "#ff0000", glv: "#00b050", ll: "#4f81bd", llStart: "#4f81bd", eot: "#ff0000", llLine: "#4f81bd"};

const panels = [
  {top: 0,    height: 212, mt: 24, mb: 4,  ml: 75, x0: -0.864, y: [-1.7, 50.1], yMajor: [0, 20, 40], yMinor: d3.range(0, 16).map(i => i * 10 / 3),
   trace: trace0953, wellbore: wellbore0953, mandrels: mandrels0953, events: events0953, notes: notes0953, arrows: [], mv: true},
  {top: 212,  height: 226, mt: 19, mb: 4,  ml: 60, x0: -0.862, y: [-3.0, 15.86], yMajor: [0, 5, 10, 15], yMinor: d3.range(-2, 16),
   trace: trace1000, wellbore: wellbore1000, mandrels: mandrels1000, events: events1000, notes: notes1000, arrows: [], mv: true},
  {top: 438,  height: 207, mt: 19, mb: 4,  ml: 60, x0: -0.862, y: [-0.3, 15.9], yMajor: [0, 5, 10, 15], yMinor: d3.range(0, 16),
   trace: trace1005, wellbore: wellbore1005, mandrels: mandrels1005, events: events1005, notes: notes1005, arrows: [], mv: true},
  {top: 645,  height: 224, mt: 19, mb: 3,  ml: 60, x0: -0.862, y: [-1.8, 15.9], yMajor: [0, 5, 10, 15], yMinor: d3.range(-1, 16),
   trace: trace1018, wellbore: wellbore1018, mandrels: mandrels1018, events: events1018, notes: notes1018, arrows: [], mv: true},
  {top: 869,  height: 168, mt: 18, mb: 3,  ml: 60, x0: -0.862, y: [2.27, 15.83], yMajor: [5, 10, 15], yMinor: d3.range(3, 16),
   trace: trace1044, wellbore: wellbore1044, mandrels: mandrels1044, events: events1044, notes: notes1044, arrows: arrows1044, mv: false},
  {top: 1037, height: 400, mt: 21, mb: 19, ml: 60, x0: -1.0, y: [-15.7, 15.8], yMajor: [-15, -10, -5, 0, 5, 10, 15], yMinor: d3.range(-15, 16),
   trace: trace1112, wellbore: wellbore1112, mandrels: mandrels1112, events: events1112, notes: notes1112, arrows: arrows1112, mv: true, last: true}
];

function drawPanel(p) {
  const [ymin, ymax] = p.y;
  const pxSec = (W - MR - p.ml) / (10 - p.x0);
  const pxMv = (p.height - p.mt - p.mb) / (ymax - ymin);
  const sec = px => px / pxSec;
  const mv = px => px / pxMv;
  const [outer, inner, end] = p.wellbore;

  const majorX = d3.range(Math.ceil(p.x0), 11);
  const minorX = d3.range(Math.ceil(p.x0 * 5 - 1e-9), 51).map(i => i / 5);
  const tag = {frameAnchor: "top", textAnchor: "start", lineAnchor: "middle", fontWeight: "bold", fontFamily: AXIS_FONT, text: d => d};

  const marks = [];
  // plot background and grid
  marks.push(Plot.frame({fill: "#f8f8f8", stroke: null}));
  marks.push(Plot.ruleX(majorX, {stroke: "#dcdcdc", strokeWidth: 1}));
  marks.push(Plot.ruleY(p.yMajor.filter(v => v !== 0), {stroke: "#dcdcdc", strokeWidth: 1}));

  // wellbore overlay: tubing walls, end-of-overlay bar, mandrel markers
  const walls = [{y: outer, x1: 0.02}, {y: -outer, x1: 0.02}, {y: inner, x1: -0.02}, {y: -inner, x1: -0.02}];
  marks.push(Plot.ruleY(walls, {y: "y", x1: "x1", x2: () => end, stroke: "#b6b6b6", strokeWidth: 3, clip: true}));
  marks.push(Plot.ruleX([-0.02], {y1: -inner, y2: inner, stroke: "#bdbdbd", strokeWidth: 2, clip: true}));
  const bars = [{y1: inner, y2: outer}, {y1: -outer, y2: -inner}];
  marks.push(Plot.rect(bars, {x1: () => end - sec(14), x2: () => end, y1: "y1", y2: "y2", fill: "#a6a6a6", fillOpacity: 0.7, clip: true}));
  marks.push(Plot.ruleX([end - sec(4)], {y1: outer - mv(3), y2: outer + mv(12), stroke: "#999", strokeWidth: 1.5, clip: true}));
  const top = inner + mv(21), mid = inner + mv(11);
  marks.push(Plot.rect(p.mandrels, {x1: d => d - sec(28), x2: d => d, y1: () => mid, y2: () => top, fill: "#bdbdbd", fillOpacity: 0.85, clip: true}));
  marks.push(Plot.rect(p.mandrels, {x1: d => d - sec(10), x2: d => d, y1: () => inner, y2: () => mid, fill: "#bdbdbd", fillOpacity: 0.85, clip: true}));

  // zero line
  marks.push(Plot.ruleY([0], {stroke: "#707070", strokeWidth: 1.5, clip: true}));

  // event lines and their tags
  for (const [kind, t, label] of p.events) {
    if (kind === "shot") {
      marks.push(Plot.ruleX([t], {stroke: "#1f1fff", strokeWidth: 1.5, strokeDasharray: "2,1"}));
      marks.push(Plot.text([label], {...tag, x: () => t, dx: 3, dy: 5, fill: "#2a2aff", fontSize: 10.5}));
    } else if (kind === "ll") {
      marks.push(Plot.ruleX([t], {stroke: "#333", strokeWidth: 1, strokeDasharray: "1.5,1.5"}));
      marks.push(Plot.text([label], {...tag, x: () => t, dx: 3, dy: 5, fill: "#222", fontSize: 10}));
    } else if (kind === "glm") {
      marks.push(Plot.ruleX([t], {stroke: "#22a022", strokeWidth: 1}));
      const below = p.events.some(e => e[0] === "ll" && Math.abs(e[1] - t) < 0.5);
      marks.push(Plot.text([label], {...tag, x: () => t, dx: 3, dy: below ? 16 : 5, fill: "#1f9a1f", fontSize: 10.5}));
    } else if (kind === "eot") {
      marks.push(Plot.ruleX([t], {stroke: "#ff3030", strokeWidth: 1}));
      marks.push(Plot.text([label], {...tag, x: () => t, dx: 3, dy: 17, fill: "#ff2020", fontSize: 11}));
    }
  }
  if (p.last) {
    marks.push(Plot.text([wellboreMessage], {...tag, x: () => 1.69, dy: 7, fill: "#ff2020", fontSize: 14.5}));
  }

  // the acoustic trace
  marks.push(Plot.line(p.trace, {x: d => d[0], y: d => d[1], curve: "monotone-x", stroke: "#111", strokeWidth: 1.1, clip: true}));

  // call-outs
  for (const [text, t, v, kind] of p.notes) {
    const size = kind === "time" ? 39 : kind === "eot" ? 37 : 32;
    const anchor = kind === "time" || kind === "llStart" ? "start" : "middle";
    marks.push(Plot.text([text], {x: () => t, y: () => v, text: d => d, textAnchor: anchor, lineAnchor: "middle", fill: COLORS[kind], fontFamily: CALLOUT_FONT, fontWeight: 700, fontSize: size}));
  }
  for (const [x1, y1, x2, y2, kind] of p.arrows) {
    const opts = {x1: () => x1, y1: () => y1, x2: () => x2, y2: () => y2, stroke: COLORS[kind], strokeWidth: 3};
    if (kind === "llLine") marks.push(Plot.link([0], opts));
    else marks.push(Plot.arrow([0], {...opts, headLength: 16, headAngle: 55}));
  }

  // frame edges
  marks.push(Plot.ruleY([ymax], {stroke: "#5a5a5a", strokeWidth: 2}));
  marks.push(Plot.ruleX([p.x0], {stroke: "#5a5a5a", strokeWidth: 1.5}));
  marks.push(Plot.ruleX([10], {stroke: "#5a5a5a", strokeWidth: 1.5}));
  if (p.last) marks.push(Plot.ruleY([ymin], {stroke: "#5a5a5a", strokeWidth: 1.5}));

  // axes
  marks.push(Plot.axisX(minorX, {anchor: "top", tickSize: 3, tickFormat: () => "", label: null, stroke: "#555"}));
  marks.push(Plot.axisX(majorX, {anchor: "top", tickSize: 3, tickPadding: 6, tickFormat: d => String(d), label: null, fontWeight: "bold", fontSize: 10, fontFamily: AXIS_FONT, stroke: "#555"}));
  marks.push(Plot.axisY(p.yMinor, {anchor: "left", tickSize: 4, tickFormat: () => "", label: null, stroke: "#555"}));
  marks.push(Plot.axisY(p.yMajor, {anchor: "left", tickSize: 4, tickPadding: 3, tickFormat: d => String(d), label: null, fontWeight: "bold", fontSize: 10, fontFamily: AXIS_FONT, stroke: "#555"}));
  marks.push(Plot.text(["Sec"], {frameAnchor: "top-left", dx: -11, dy: -12, lineAnchor: "middle", text: d => d, textAnchor: "end", fontWeight: "bold", fontSize: 10, fontFamily: AXIS_FONT, fill: "#333"}));
  if (p.mv) {
    marks.push(Plot.text(["mV"], {x: () => p.x0, y: () => 0, dx: p.ml === 75 ? -43 : -46, rotate: -90, text: d => d, fontWeight: "bold", fontSize: 10, fontFamily: AXIS_FONT, fill: "#333"}));
  }
  if (p.last) {
    marks.push(Plot.axisX(ftMinor.map(f => f / FT_PER_SEC), {anchor: "bottom", tickSize: 3, tickFormat: () => "", label: null, stroke: "#555"}));
    marks.push(Plot.axisX(ftMajor.map(f => f / FT_PER_SEC), {anchor: "bottom", tickSize: 3, tickPadding: 3, tickFormat: d => String(Math.round(d * FT_PER_SEC)), label: null, fontWeight: "bold", fontSize: 10, fontFamily: AXIS_FONT, stroke: "#555"}));
    marks.push(Plot.text(["ft"], {frameAnchor: "bottom-left", dx: -22, dy: 11, lineAnchor: "middle", text: d => d, textAnchor: "end", fontWeight: "bold", fontSize: 10, fontFamily: AXIS_FONT, fill: "#333"}));
  }

  const svg = Plot.plot({
    width: W,
    height: p.height,
    marginTop: p.mt,
    marginBottom: p.mb,
    marginLeft: p.ml,
    marginRight: MR,
    x: {type: "linear", domain: [p.x0, 10], axis: null},
    y: {type: "linear", domain: [ymin, ymax], axis: null},
    style: {fontFamily: AXIS_FONT, fontSize: "10px", color: "#333", background: "transparent", overflow: "hidden"},
    marks
  });
  svg.style.top = p.top + "px";
  return svg;
}

const stack = document.getElementById("stack");
for (const p of panels) stack.appendChild(drawPanel(p));
</script>
</body>
</html>
